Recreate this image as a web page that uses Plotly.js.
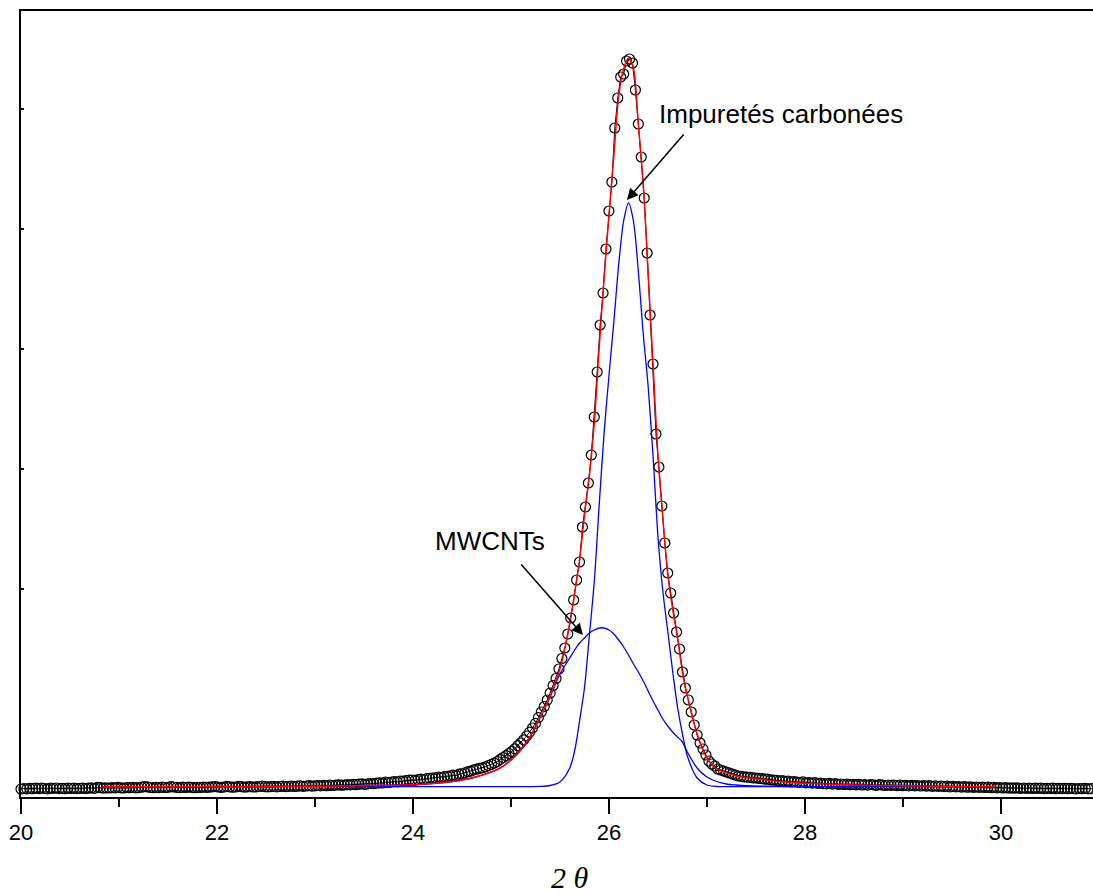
<!DOCTYPE html>
<html>
<head>
<meta charset="utf-8">
<script src="https://cdn.plot.ly/plotly-3.0.1.min.js"></script>
<style>
  html, body { margin: 0; padding: 0; background: #ffffff; }
  #chart { width: 1093px; height: 894px; }
</style>
</head>
<body>
<div id="chart"></div>
<script>
// XRD scan: 2θ positions (degrees)
const twoTheta = [
  20.00,20.03,20.06,20.09,20.12,20.15,20.18,20.21,20.24,20.27,
  20.30,20.33,20.36,20.39,20.42,20.45,20.48,20.51,20.54,20.57,
  20.60,20.63,20.66,20.69,20.72,20.75,20.78,20.81,20.84,20.87,
  20.90,20.93,20.96,20.99,21.02,21.05,21.08,21.11,21.14,21.17,
  21.20,21.23,21.26,21.29,21.32,21.35,21.38,21.41,21.44,21.47,
  21.50,21.53,21.56,21.59,21.62,21.65,21.68,21.71,21.74,21.77,
  21.80,21.83,21.86,21.89,21.92,21.95,21.98,22.01,22.04,22.07,
  22.10,22.13,22.16,22.19,22.22,22.25,22.28,22.31,22.34,22.37,
  22.40,22.43,22.46,22.49,22.52,22.55,22.58,22.61,22.64,22.67,
  22.70,22.73,22.76,22.79,22.82,22.85,22.88,22.91,22.94,22.97,
  23.00,23.03,23.06,23.09,23.12,23.15,23.18,23.21,23.24,23.27,
  23.30,23.33,23.36,23.39,23.42,23.45,23.48,23.51,23.54,23.57,
  23.60,23.63,23.66,23.69,23.72,23.75,23.78,23.81,23.84,23.87,
  23.90,23.93,23.96,23.99,24.02,24.05,24.08,24.11,24.14,24.17,
  24.20,24.23,24.26,24.29,24.32,24.35,24.38,24.41,24.44,24.47,
  24.50,24.53,24.56,24.59,24.62,24.65,24.68,24.71,24.74,24.77,
  24.80,24.83,24.86,24.89,24.92,24.95,24.98,25.01,25.04,25.07,
  25.10,25.13,25.16,25.19,25.22,25.25,25.28,25.31,25.34,25.37,
  25.40,25.43,25.46,25.49,25.52,25.55,25.58,25.61,25.64,25.67,
  25.70,25.73,25.76,25.79,25.82,25.85,25.88,25.91,25.94,25.97,
  26.00,26.03,26.06,26.09,26.12,26.15,26.18,26.21,26.24,26.27,
  26.30,26.33,26.36,26.39,26.42,26.45,26.48,26.51,26.54,26.57,
  26.60,26.63,26.66,26.69,26.72,26.75,26.78,26.81,26.84,26.87,
  26.90,26.93,26.96,26.99,27.02,27.05,27.08,27.11,27.14,27.17,
  27.20,27.23,27.26,27.29,27.32,27.35,27.38,27.41,27.44,27.47,
  27.50,27.53,27.56,27.59,27.62,27.65,27.68,27.71,27.74,27.77,
  27.80,27.83,27.86,27.89,27.92,27.95,27.98,28.01,28.04,28.07,
  28.10,28.13,28.16,28.19,28.22,28.25,28.28,28.31,28.34,28.37,
  28.40,28.43,28.46,28.49,28.52,28.55,28.58,28.61,28.64,28.67,
  28.70,28.73,28.76,28.79,28.82,28.85,28.88,28.91,28.94,28.97,
  29.00,29.03,29.06,29.09,29.12,29.15,29.18,29.21,29.24,29.27,
  29.30,29.33,29.36,29.39,29.42,29.45,29.48,29.51,29.54,29.57,
  29.60,29.63,29.66,29.69,29.72,29.75,29.78,29.81,29.84,29.87,
  29.90,29.93,29.96,29.99,30.02,30.05,30.08,30.11,30.14,30.17,
  30.20,30.23,30.26,30.29,30.32,30.35,30.38,30.41,30.44,30.47,
  30.50,30.53,30.56,30.59,30.62,30.65,30.68,30.71,30.74,30.77,
  30.80,30.83,30.86,30.89,30.92,30.95
];

// Measured intensity (counts)
const intensity = [
  70,75,72,76,73,78,74,79,75,72,
  78,76,80,74,77,73,79,75,78,74,
  77,79,75,78,81,77,86,83,79,82,
  80,84,81,86,82,80,85,83,87,82,
  84,88,94,91,85,83,87,84,89,85,
  86,93,90,86,84,88,85,89,86,83,
  87,85,89,86,88,92,95,90,87,89,
  96,91,88,90,97,93,89,91,94,90,
  92,95,99,93,91,94,96,92,95,98,
  94,96,99,95,98,101,97,100,103,99,
  102,105,101,106,103,108,105,109,112,108,
  110,114,111,116,113,118,121,117,122,125,
  123,128,132,130,138,135,140,144,141,148,
  150,153,158,160,156,164,169,165,174,176,
  180,182,189,185,194,196,201,208,205,218,
  224,232,243,249,262,268,277,281,292,304,
  316,329,345,366,385,404,425,446,472,503,
  530,562,600,638,680,726,784,840,895,960,
  1030,1105,1175,1270,1375,1480,1620,1780,1960,2160,
  2340,2690,2890,3130,3410,3790,4240,4710,5030,5470,
  5850,6140,6680,6980,7190,7220,7350,7370,7330,7060,
  6720,6390,5980,5430,4810,4320,3620,3290,2900,2530,
  2230,2030,1830,1640,1470,1240,1080,960,840,710,
  610,530,470,410,350,320,300,270,260,250,
  240,230,220,210,200,196,192,189,187,182,
  180,176,174,169,168,162,160,157,152,153,
  146,148,142,145,138,136,141,132,135,129,
  133,126,129,124,121,126,119,123,117,120,
  115,119,113,117,111,116,110,114,109,115,
  112,107,113,109,105,110,106,109,104,108,
  103,107,102,106,101,105,100,104,99,103,
  97,101,96,99,94,98,92,96,91,94,
  89,93,88,92,87,90,86,89,85,88,
  83,87,82,85,80,83,79,82,78,81,
  77,80,76,79,75,78,76,79,74,77,
  75,78,73,76,74,77,73,76,74,72,
  75,73,76,72,74,73
];

// Fitted profile, sampled on its own 2θ grid
const fitTheta = [
  20.83,21.5,22.0,22.5,23.0,23.5,23.8,24.0,24.2,24.4,
  24.6,24.8,24.9,25.0,25.1,25.2,25.3,25.4,25.5,25.6,
  25.65,25.7,25.75,25.8,25.85,25.9,25.95,26.0,26.05,26.1,
  26.15,26.2,26.25,26.3,26.35,26.4,26.45,26.5,26.55,26.6,
  26.65,26.7,26.75,26.8,26.9,27.0,27.1,27.2,27.3,27.4,
  27.6,27.8,28.0,28.5,29.0,29.5,29.95
];

// Total fit (red)
const fitTotal = [
  93,93,94,95,98,103,108,113,125,145,
  180,240,285,360,460,600,790,1000,1270,1720,
  2030,2360,2800,3200,3720,4480,5170,5800,6400,7000,
  7270,7380,7280,6720,6120,5220,4320,3400,2780,2220,
  1870,1580,1240,1000,620,380,270,230,200,185,
  160,140,128,110,102,96,93
];

// Broad component: MWCNTs (blue)
const fitMWCNT = [
  93,93,94,95,98,103,108,113,125,145,
  180,240,285,360,460,600,790,990,1220,1380,
  1460,1530,1580,1630,1660,1680,1680,1660,1620,1560,
  1490,1410,1320,1240,1150,1050,950,860,770,700,
  640,590,540,440,280,190,145,120,110,103,
  98,95,93,93,93,93,93
];

// Narrow component: carbonaceous impurities (blue)
const fitImpurities = [
  93,93,93,93,93,93,93,93,93,93,
  93,93,93,93,93,94,96,105,140,280,
  450,750,1080,1600,2140,2900,3620,4200,4740,5320,
  5750,5930,5750,5250,4620,4100,3400,2600,2050,1650,
  1250,890,620,400,180,110,95,93,93,93,
  93,93,93,93,93,93,93
];

const xTickLabels = ['20', '22', '24', '26', '28', '30'];
const xTickValues = [20, 22, 24, 26, 28, 30];

const traces = [
  {
    x: twoTheta, y: intensity,
    type: 'scatter', mode: 'lines+markers',
    line: { color: '#000000', width: 1 },
    marker: { symbol: 'circle-open', size: 10, color: '#000000', line: { width: 1.2, color: '#000000' } },
    cliponaxis: false,
    showlegend: false, hoverinfo: 'skip'
  },
  {
    x: fitTheta, y: fitMWCNT,
    type: 'scatter', mode: 'lines',
    line: { color: '#0000ff', width: 1.3, shape: 'spline', smoothing: 0.8 },
    showlegend: false, hoverinfo: 'skip'
  },
  {
    x: fitTheta, y: fitImpurities,
    type: 'scatter', mode: 'lines',
    line: { color: '#0000ff', width: 1.3, shape: 'spline', smoothing: 0.8 },
    showlegend: false, hoverinfo: 'skip'
  },
  {
    x: fitTheta, y: fitTotal,
    type: 'scatter', mode: 'lines',
    line: { color: '#ff0000', width: 1.5, shape: 'spline', smoothing: 0.8 },
    showlegend: false, hoverinfo: 'skip'
  }
];

const sansFont = 'Liberation Sans, Arial, sans-serif';

const layout = {
  width: 1093, height: 894,
  margin: { l: 21, r: 0, t: 11, b: 97, pad: 0 },
  paper_bgcolor: '#ffffff', plot_bgcolor: '#ffffff',
  showlegend: false,
  xaxis: {
    range: [20, 30.94],
    tickvals: xTickValues, ticktext: xTickLabels,
    ticks: 'outside', ticklen: 15, tickwidth: 2, tickcolor: '#000000',
    minor: { dtick: 1, tick0: 20, ticks: 'outside', ticklen: 8, tickwidth: 2, tickcolor: '#000000', showgrid: false },
    showline: true, linecolor: '#000000', linewidth: 2, mirror: true,
    showgrid: false, zeroline: false,
    tickfont: { family: sansFont, size: 22, color: '#000000' }
  },
  yaxis: {
    range: [-10, 7850],
    tickvals: [2070, 3270, 4470, 5670, 6870],
    showticklabels: false,
    ticks: 'inside', ticklen: 3, tickwidth: 1.5, tickcolor: '#000000',
    showline: true, linecolor: '#000000', linewidth: 2, mirror: false,
    showgrid: false, zeroline: false
  },
  annotations: [
    {
      text: 'Impuretés carbonées',
      x: 26.49, y: 6820, xref: 'x', yref: 'y',
      xanchor: 'left', yanchor: 'middle', showarrow: false,
      font: { family: sansFont, size: 26, color: '#000000' }
    },
    {
      text: '', x: 26.184, y: 5960, xref: 'x', yref: 'y',
      showarrow: true, ax: 58, ay: -67,
      arrowhead: 2, arrowsize: 1.5, arrowwidth: 1.5, arrowcolor: '#000000'
    },
    {
      text: 'MWCNTs',
      x: 24.79, y: 2550, xref: 'x', yref: 'y',
      xanchor: 'center', yanchor: 'middle', showarrow: false,
      font: { family: sansFont, size: 26, color: '#000000' }
    },
    {
      text: '', x: 25.735, y: 1610, xref: 'x', yref: 'y',
      showarrow: true, ax: -63, ay: -72,
      arrowhead: 2, arrowsize: 1.5, arrowwidth: 1.5, arrowcolor: '#000000'
    },
    {
      text: '<i>2 θ</i>',
      x: 25.6, y: -0.103, xref: 'x', yref: 'paper',
      xanchor: 'center', yanchor: 'middle', showarrow: false,
      font: { family: 'Liberation Serif, Times New Roman, serif', size: 30, color: '#000000' }
    }
  ]
};

Plotly.newPlot('chart', traces, layout, { staticPlot: true, displayModeBar: false });
</script>
</body>
</html>
